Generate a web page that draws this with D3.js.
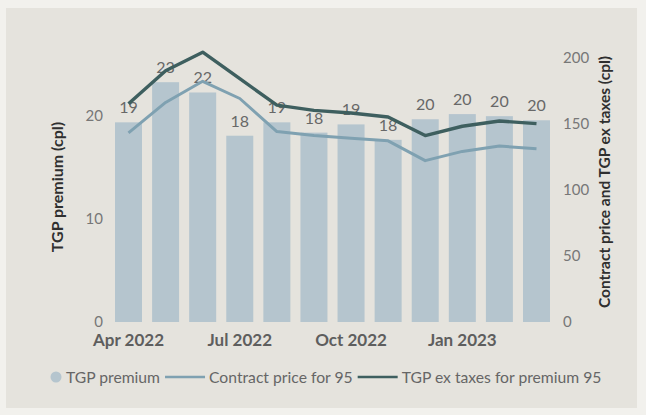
<!DOCTYPE html>
<html>
<head>
<meta charset="utf-8">
<script src="https://cdn.jsdelivr.net/npm/d3@7"></script>
<style>
  body { margin: 0; background: #f2f1ed; }
  svg { display: block; }
  text { font-family: Lato, "Open Sans", sans-serif; }
</style>
</head>
<body>
<svg id="chart" width="646" height="415"></svg>
<script>
// Monthly categories and the ones that get an axis label
const months = ["Apr 2022", "May 2022", "Jun 2022", "Jul 2022", "Aug 2022", "Sep 2022",
                "Oct 2022", "Nov 2022", "Dec 2022", "Jan 2023", "Feb 2023", "Mar 2023"];
const tickMonths = ["Apr 2022", "Jul 2022", "Oct 2022", "Jan 2023"];

// TGP premium (cpl) - left axis, bars
const tgpPremium = [19.4, 23.3, 22.3, 18.1, 19.4, 18.4, 19.2, 17.7, 19.7, 20.2, 20.0, 19.6];
// Contract price for 95 (cpl) - right axis
const contractPrice = [143, 166, 182, 169, 144, 141, 139, 137, 122, 129, 133, 131];
// TGP ex taxes for premium 95 (cpl) - right axis
const tgpExTaxes = [165, 190, 204, 184, 164, 160, 158, 155, 141, 148, 152, 150];

const leftTicks = [0, 10, 20];
const rightTicks = [0, 50, 100, 150, 200];
const leftMax = 25.7;
const rightMax = 200;

const colors = {
  panel: "#e5e3dd",
  bar: "#b5c5ce",
  contract: "#7fa1b1",
  exTaxes: "#3e5f5f",
  tick: "#777777",
  label: "#686868",
  title: "#2f2f2f"
};

const svg = d3.select("#chart");

// background panel
svg.append("rect")
  .attr("x", 6).attr("y", 8).attr("width", 631).attr("height", 400)
  .attr("fill", colors.panel);

const plot = { left: 110, right: 555, top: 57.5, bottom: 322 };

const x = d3.scaleBand()
  .domain(months)
  .range([plot.left, plot.right])
  .paddingInner(0.272)
  .paddingOuter(0.135);

const yL = d3.scaleLinear().domain([0, leftMax]).range([plot.bottom, plot.top]);
const yR = d3.scaleLinear().domain([0, rightMax]).range([plot.bottom, plot.top]);

const cx = m => x(m) + x.bandwidth() / 2;

// bars
svg.append("g").selectAll("rect")
  .data(months)
  .join("rect")
  .attr("x", d => x(d))
  .attr("width", x.bandwidth())
  .attr("y", (d, i) => yL(tgpPremium[i]))
  .attr("height", (d, i) => plot.bottom - yL(tgpPremium[i]))
  .attr("fill", colors.bar);

// bar value labels
const fmt = d3.format(".0f");
svg.append("g").selectAll("text")
  .data(months)
  .join("text")
  .attr("x", d => cx(d))
  .attr("y", (d, i) => yL(tgpPremium[i]) - 9)
  .attr("text-anchor", "middle")
  .attr("font-size", 16)
  .attr("fill", colors.label)
  .text((d, i) => fmt(tgpPremium[i]));

// lines
const line = d3.line()
  .x((d, i) => cx(months[i]))
  .y(d => yR(d));

svg.append("path")
  .attr("d", line(contractPrice))
  .attr("fill", "none")
  .attr("stroke", colors.contract)
  .attr("stroke-width", 3)
  .attr("stroke-linejoin", "round");

svg.append("path")
  .attr("d", line(tgpExTaxes))
  .attr("fill", "none")
  .attr("stroke", colors.exTaxes)
  .attr("stroke-width", 3.4)
  .attr("stroke-linejoin", "round");

// axes
function styleAxis(g, size, weight, color) {
  g.select(".domain").remove();
  g.selectAll("text")
    .attr("font-size", size)
    .attr("font-weight", weight)
    .attr("fill", color)
    .style("font-family", "Lato, 'Open Sans', sans-serif");
}

svg.append("g")
  .attr("transform", `translate(${plot.left},0)`)
  .call(d3.axisLeft(yL).tickValues(leftTicks).tickSize(0).tickPadding(7))
  .call(g => styleAxis(g, 15, "normal", colors.tick));

svg.append("g")
  .attr("transform", `translate(${plot.right},0)`)
  .call(d3.axisRight(yR).tickValues(rightTicks).tickSize(0).tickPadding(8))
  .call(g => styleAxis(g, 15, "normal", colors.tick));

svg.append("g")
  .attr("transform", `translate(0,${plot.bottom})`)
  .call(d3.axisBottom(x).tickValues(tickMonths).tickSize(0).tickPadding(11.5))
  .call(g => styleAxis(g, 17, "bold", "#5e5e5e"));

// axis titles
svg.append("text")
  .attr("transform", "translate(57,187) rotate(-90)")
  .attr("dy", "0.35em")
  .attr("text-anchor", "middle")
  .attr("font-size", 16)
  .attr("font-weight", "bold")
  .attr("fill", colors.title)
  .text("TGP premium (cpl)");

svg.append("text")
  .attr("transform", "translate(605,182) rotate(-90)")
  .attr("dy", "0.35em")
  .attr("text-anchor", "middle")
  .attr("font-size", 15.5)
  .attr("font-weight", "bold")
  .attr("fill", colors.title)
  .text("Contract price and TGP ex taxes (cpl)");

// legend
const legend = svg.append("g").attr("transform", "translate(0,377)");
let lx = 51;
legend.append("circle").attr("cx", lx + 5).attr("cy", 0).attr("r", 5.5).attr("fill", colors.bar);
lx += 15;
const legendItems = [
  { label: "TGP premium", next: colors.contract },
  { label: "Contract price for 95", next: colors.exTaxes },
  { label: "TGP ex taxes for premium 95", next: null }
];
legendItems.forEach(item => {
  const t = legend.append("text")
    .attr("x", lx).attr("y", 0).attr("dy", "0.35em")
    .attr("font-size", 15.7)
    .attr("fill", "#666666")
    .text(item.label);
  lx += t.node().getComputedTextLength();
  if (item.next) {
    legend.append("line")
      .attr("x1", lx + 5).attr("x2", lx + 45)
      .attr("y1", 0).attr("y2", 0)
      .attr("stroke", item.next)
      .attr("stroke-width", 2.5);
    lx += 49;
  }
});
</script>
</body>
</html>
